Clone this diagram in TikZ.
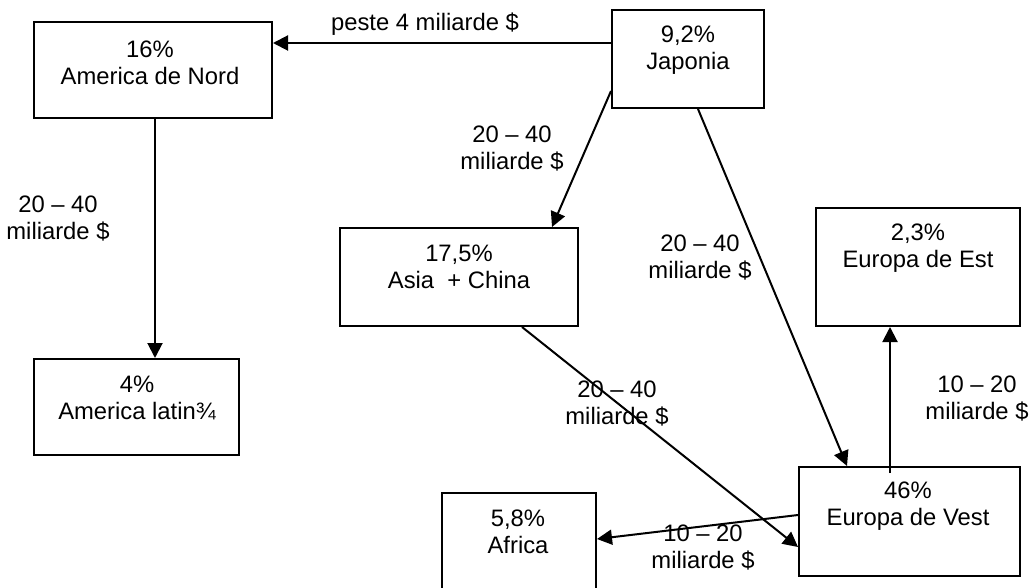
\documentclass[tikz,border=0pt]{standalone}
\usepackage{fontspec}
\setmainfont{Liberation Sans}
\usetikzlibrary{arrows.meta}
\begin{document}
\begin{tikzpicture}[x=1pt,y=-1pt,
  region/.style={draw, line width=2pt, inner sep=0pt},
  flow/.style={draw, line width=2pt, -{Triangle[length=15pt,width=15pt]}},
  txt/.style={inner sep=0pt, align=center, font=\fontsize{23.8}{27}\selectfont},
]
\useasboundingbox (0,0) rectangle (1032,588);

% regions (frames)
\node[region, minimum width=238pt, minimum height=96pt]  (adn)  at (153,70)    {};
\node[region, minimum width=152pt, minimum height=98pt]  (jap)  at (688,59)    {};
\node[region, minimum width=238pt, minimum height=98pt]  (asia) at (459,277)   {};
\node[region, minimum width=204pt, minimum height=118pt] (ede)  at (918,267)   {};
\node[region, minimum width=205pt, minimum height=96pt]  (al)   at (136.5,407) {};
\node[region, minimum width=154pt, minimum height=107pt] (afr)  at (519,546.5) {};
\node[region, minimum width=221pt, minimum height=109pt] (edv)  at (909.5,521.5) {};

% region captions
\node[txt] (adn-t)  at (150,63)    {16\%\\America de Nord};
\node[txt] (jap-t)  at (688,50)    {9,2\%\\Japonia};
\node[txt] (asia-t) at (459,266.5) {17,5\%\\Asia\ \ + China};
\node[txt] (ede-t)  at (918,248.5) {2,3\%\\Europa de Est};
\node[txt] (al-t)   at (137,397.5) {4\%\\America latin¾};
\node[txt] (afr-t)  at (518,532)   {5,8\%\\Africa};
\node[txt] (edv-t)  at (908,506.5) {46\%\\Europa de Vest};

% investment flows
\draw[flow] ([yshift=16pt]jap.west) -- ([yshift=16pt]jap.west -| adn.east);
\draw[flow] ([xshift=2pt]adn.south) -- ([xshift=2pt]adn.south |- al.north);
\draw[flow] ([yshift=-32pt]jap.west) -- ([xshift=93pt]asia.north);
\draw[flow] ([xshift=10pt]jap.south) -- ([xshift=-62.5pt]edv.north);
\draw[flow] ([xshift=-19.5pt,yshift=-7pt]edv.north) -- ([xshift=-28pt]ede.south);
\draw[flow] ([xshift=63pt]asia.south) -- ([yshift=-25.5pt]edv.west);
\draw[flow] ([yshift=6.5pt]edv.west) -- ([yshift=7.5pt]afr.east);

% flow amounts
\node[txt] (l1) at (425,24)    {peste 4 miliarde \$};
\node[txt] (l2) at (58,218.5)  {20 – 40\\miliarde \$};
\node[txt] (l3) at (512,148.5) {20 – 40\\miliarde \$};
\node[txt] (l4) at (700,258)   {20 – 40\\miliarde \$};
\node[txt] (l5) at (977,398.5) {10 – 20\\miliarde \$};
\node[txt] (l6) at (617,404)   {20 – 40\\miliarde \$};
\node[txt] (l7) at (703,547.5) {10 – 20\\miliarde \$};
\end{tikzpicture}
\end{document}
